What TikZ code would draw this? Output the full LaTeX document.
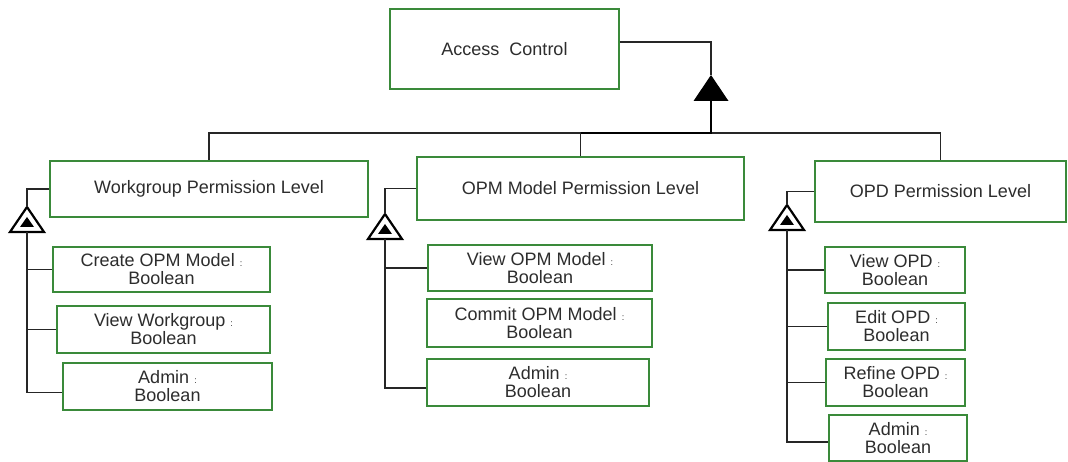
\documentclass[tikz,border=0pt]{standalone}
\usepackage{fontspec}
\setmainfont{Liberation Sans}
\usetikzlibrary{calc}
\definecolor{boxgreen}{RGB}{58,138,58}
\definecolor{txt}{RGB}{45,45,45}
\newcommand{\smallcolon}{{\fontsize{9}{9}\selectfont :}}
\tikzset{
  box/.style={draw=boxgreen, line width=1.8pt, fill=white, inner sep=0pt, rectangle,
    text=txt, align=center, font=\fontsize{18}{18}\selectfont},
  conn/.style={draw=black!85, line width=1.3pt},
  thickc/.style={draw=black, line width=2.6pt},
  unfold/.pic={
    \coordinate (-apex) at (0,0);
    \coordinate (-base) at (0,25);
    \draw[line width=2.2pt, fill=white, line join=miter] (0,0) -- (17,25) -- (-17,25) -- cycle;
    \fill (0,10) -- (7,20) -- (-7,20) -- cycle;
  },
  aggr/.pic={
    \coordinate (-apex) at (0,0);
    \coordinate (-base) at (0,26);
    \fill (0,0) -- (17.5,26) -- (-17.5,26) -- cycle;
  }
}
\begin{document}
\begin{tikzpicture}[x=1pt,y=-1pt]
\useasboundingbox (0,0) rectangle (1068,462);

% main boxes
\node[box, minimum width=229pt, minimum height=80pt] (ac) at (504.5,49) {Access\ \ Control};
\node[box, minimum width=318pt, minimum height=56pt] (wg) at (209,189) {Workgroup Permission Level};
\node[box, minimum width=327pt, minimum height=63pt] (opm) at (580.5,188.5) {OPM Model Permission Level};
\node[box, minimum width=251pt, minimum height=61pt] (opd) at (940.5,191.5) {OPD Permission Level};

% top aggregation
\pic (top) at (711,75) {aggr};
\coordinate (bus) at (711,133);
\draw[conn] ($(ac.north east)+(0,34)$) -| (top-apex);
\draw[conn] (wg.north) |- (opd.north |- bus) -- (opd.north);
\draw[conn] (opm.north |- bus) -- (opm.north);
\draw[thickc] (top-base) |- (opm.north |- bus);

% workgroup attributes
\node[box, minimum width=217pt, minimum height=45pt] (w1) at (161.5,269.5) {Create OPM Model \smallcolon\\Boolean};
\node[box, minimum width=213pt, minimum height=47pt] (w2) at (163.5,329.5) {View Workgroup \smallcolon\\Boolean};
\node[box, minimum width=209pt, minimum height=47pt] (w3) at (167.5,386.5) {Admin \smallcolon\\Boolean};
\pic (wt) at (27,207) {unfold};
\draw[conn] (wg.west) -| (wt-apex);
\draw[conn] (wt-base) |- ($(w3.west)+(0,6)$);
\draw[conn] (w1.west) -- (w1.west -| wt-base);
\draw[conn] (w2.west) -- (w2.west -| wt-base);

% OPM model attributes
\node[box, minimum width=224pt, minimum height=46pt] (m1) at (540,268) {View OPM Model \smallcolon\\Boolean};
\node[box, minimum width=225pt, minimum height=48pt] (m2) at (539.5,323) {Commit OPM Model \smallcolon\\Boolean};
\node[box, minimum width=222pt, minimum height=47pt] (m3) at (538,382.5) {Admin \smallcolon\\Boolean};
\pic (mt) at (385,214) {unfold};
\draw[conn] (opm.west) -| (mt-apex);
\draw[conn] (mt-base) |- ($(m3.west)+(0,5.5)$);
\draw[conn] (m1.west) -- (m1.west -| mt-base);
\draw[conn] ($(m2.west)+(0,7)$) -- ($(m2.west)+(0,7)$ -| mt-base);

% OPD attributes
\node[box, minimum width=140pt, minimum height=46pt] (d1) at (895,270) {View OPD \smallcolon\\Boolean};
\node[box, minimum width=137pt, minimum height=47pt] (d2) at (896.5,326.5) {Edit OPD \smallcolon\\Boolean};
\node[box, minimum width=139pt, minimum height=47pt] (d3) at (895.5,382.5) {Refine OPD \smallcolon\\Boolean};
\node[box, minimum width=138pt, minimum height=46pt] (d4) at (898,438) {Admin \smallcolon\\Boolean};
\pic (dt) at (787,205) {unfold};
\draw[conn] (opd.west) -| (dt-apex);
\draw[conn] (dt-base) |- ($(d4.west)+(0,4)$);
\draw[conn] (d1.west) -- (d1.west -| dt-base);
\draw[conn] (d2.west) -- (d2.west -| dt-base);
\draw[conn] (d3.west) -- (d3.west -| dt-base);
\end{tikzpicture}
\end{document}
